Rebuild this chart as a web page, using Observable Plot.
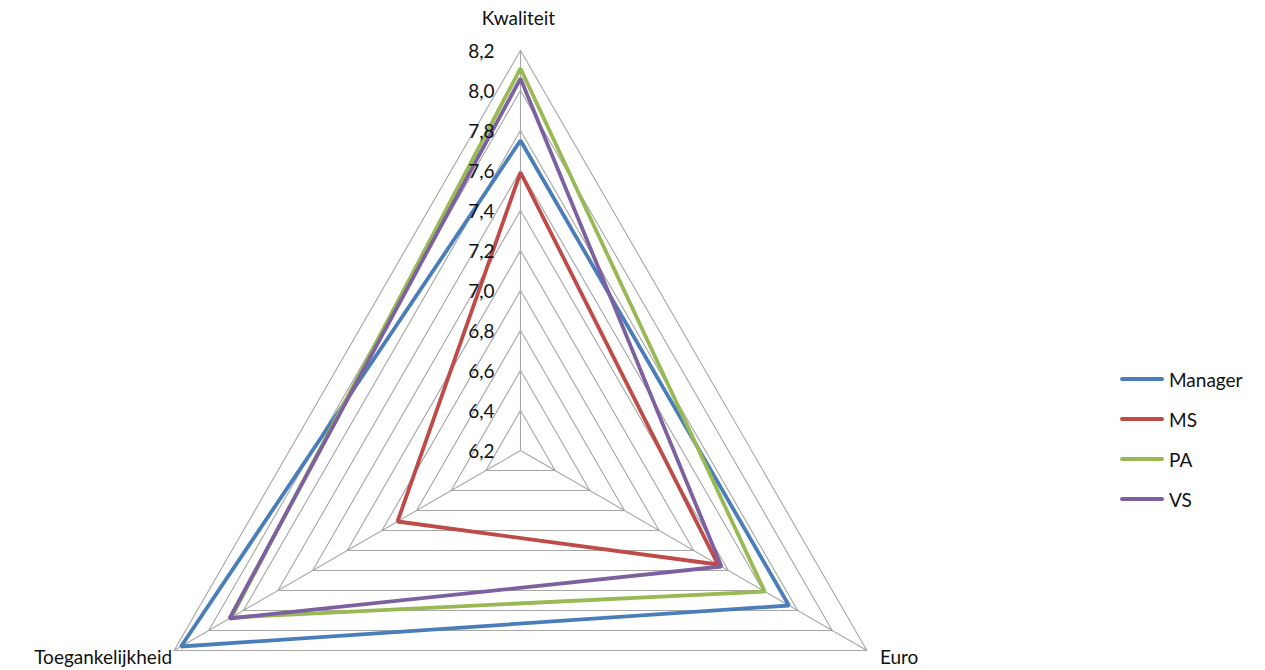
<!DOCTYPE html>
<html>
<head>
<meta charset="utf-8">
<script src="https://cdn.jsdelivr.net/npm/d3@7"></script>
<script src="https://cdn.jsdelivr.net/npm/@observablehq/plot@0.6"></script>
<style>
  body { margin: 0; background: #fff; }
  #wrap { position: relative; width: 1265px; height: 670px; font-family: Lato, "Open Sans", sans-serif; }
  #legend { position: absolute; left: 1120px; top: 359px; }
  .item { display: flex; align-items: center; height: 40px; font-size: 19px; color: #111; }
  .sw { width: 44px; height: 4px; border-radius: 2px; margin-right: 5px; }
</style>
</head>
<body>
<div id="wrap"><div id="chart"></div><div id="legend"></div></div>
<script>
const axes = ["Kwaliteit", "Euro", "Toegankelijkheid"];
const series = ["Manager", "MS", "PA", "VS"];
const colors = ["#4a7ebb", "#be4b48", "#98b954", "#7d60a0"];
const kwaliteit = [7.75, 7.59, 8.11, 8.06];
const euro = [7.75, 7.34, 7.61, 7.36];
const toegankelijkheid = [8.16, 6.91, 7.87, 7.88];
const tickValues = [6.2, 6.4, 6.6, 6.8, 7.0, 7.2, 7.4, 7.6, 7.8, 8.0, 8.2];
const rMin = 6.2, rMax = 8.2;

const values = [kwaliteit, euro, toegankelijkheid];
const angle = i => i * 2 * Math.PI / axes.length;
const px = (v, i) => (v - rMin) * Math.sin(angle(i));
const py = (v, i) => (v - rMin) * Math.cos(angle(i));

const pts = [];
series.forEach((s, k) => {
  axes.forEach((a, i) => {
    const v = values[i][k];
    pts.push({series: s, axis: a, x: px(v, i), y: py(v, i)});
  });
});

const rings = [];
tickValues.slice(1).forEach(t => {
  axes.forEach((a, i) => rings.push({level: t, x: px(t, i), y: py(t, i)}));
});
const spokes = axes.map((a, i) => ({x1: 0, y1: 0, x2: px(rMax, i), y2: py(rMax, i)}));
const tickLabels = tickValues.map(t => ({y: t - rMin, label: t.toFixed(1).replace(".", ",")}));
const axisLabels = axes.map((a, i) => ({axis: a, x: px(rMax, i), y: py(rMax, i)}));

const W = 1265, H = 670, k = 200;
const cx = 520, cy = 450;
const fs = 19;

const chart = Plot.plot({
  width: W, height: H,
  margin: 0,
  x: {domain: [-cx / k, (W - cx) / k], axis: null},
  y: {domain: [-(H - cy) / k, cy / k], axis: null},
  style: {fontFamily: "Lato, 'Open Sans', sans-serif", background: "#fff"},
  marks: [
    Plot.line(rings, {x: "x", y: "y", z: "level", curve: "linear-closed", stroke: "#a6a6a6", strokeWidth: 1.1}),
    Plot.link(spokes, {x1: "x1", y1: "y1", x2: "x2", y2: "y2", stroke: "#a6a6a6", strokeWidth: 1.1}),
    Plot.line(pts, {x: "x", y: "y", z: "series", curve: "linear-closed",
      stroke: d => colors[series.indexOf(d.series)], strokeWidth: 3.8, strokeLinejoin: "miter"}),
    Plot.text(tickLabels, {x: 0, y: "y", text: "label", textAnchor: "end", dx: -26, dy: 1, fontSize: fs, fill: "#111"}),
    Plot.text(axisLabels.filter(d => d.axis === "Kwaliteit"), {x: "x", y: "y", text: "axis", dx: -2, dy: -32, fontSize: fs, fill: "#111"}),
    Plot.text(axisLabels.filter(d => d.axis === "Euro"), {x: "x", y: "y", text: "axis", textAnchor: "start", dx: 13, dy: 7, fontSize: fs, fill: "#111"}),
    Plot.text(axisLabels.filter(d => d.axis === "Toegankelijkheid"), {x: "x", y: "y", text: "axis", textAnchor: "end", dx: -2, dy: 7, fontSize: fs, fill: "#111"})
  ]
});
document.getElementById("chart").append(chart);

const legend = document.getElementById("legend");
series.forEach((s, i) => {
  const it = document.createElement("div");
  it.className = "item";
  it.innerHTML = `<span class="sw" style="background:${colors[i]}"></span><span>${s}</span>`;
  legend.append(it);
});
</script>
</body>
</html>
